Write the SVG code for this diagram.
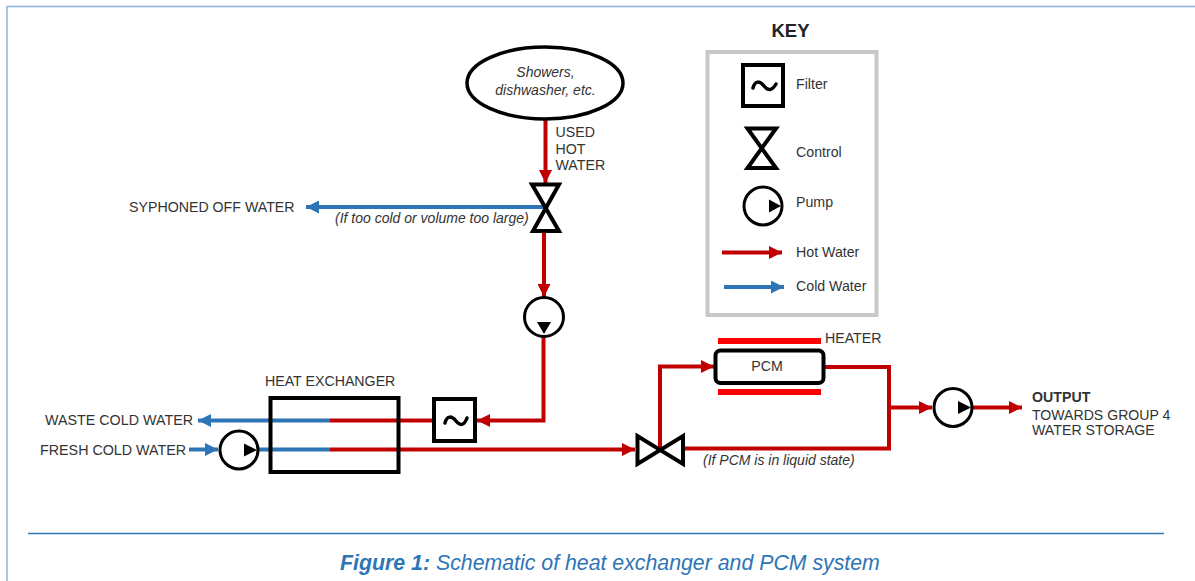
<svg xmlns="http://www.w3.org/2000/svg" width="1195" height="581" viewBox="0 0 1195 581">
<defs>
<marker id="ah" viewBox="0 0 13 13" refX="13" refY="6.5" markerUnits="userSpaceOnUse" markerWidth="13" markerHeight="13" orient="auto"><path d="M0 0L13 6.5L0 13z" fill="#c00000"/></marker>
<marker id="ac" viewBox="0 0 13 13" refX="13" refY="6.5" markerUnits="userSpaceOnUse" markerWidth="13" markerHeight="13" orient="auto"><path d="M0 0L13 6.5L0 13z" fill="#2e75b6"/></marker>
</defs>
<style>
text{font-family:"Liberation Sans",Arial,sans-serif;font-size:14.2px;fill:#333}
.i{font-style:italic;font-size:14px}
.h{fill:none;stroke:#c00000;stroke-width:4}
.c{fill:none;stroke:#2e75b6;stroke-width:4}
.b{fill:#fff;stroke:#000;stroke-width:4}
.n{fill:none;stroke:#000;stroke-width:4}
.p{fill:#fff;stroke:#000;stroke-width:3}
.v{fill:none;stroke:#000;stroke-width:4;stroke-linejoin:miter}
.w{fill:none;stroke:#000;stroke-width:3.500;stroke-linecap:round}
</style>
<rect width="1195" height="581" fill="#fff"/>
<path d="M7 581V6.500H1195" fill="none" stroke="#8db4dc" stroke-width="1.500"/>
<line x1="28" y1="533.500" x2="1164" y2="533.500" stroke="#2e75b6" stroke-width="1.500"/>
<text x="610" y="570" text-anchor="middle" style="font-size:21.300px;fill:#2e75b6;font-style:italic"><tspan font-weight="bold">Figure 1:</tspan> Schematic of heat exchanger and PCM system</text>

<g id="key">
<text x="790.500" y="37" text-anchor="middle" style="font-size:18.500px;font-weight:bold;fill:#222">KEY</text>
<rect x="707.500" y="52" width="169" height="263" fill="#fff" stroke="#c8c8c8" stroke-width="4"/>
<rect x="743" y="65" width="40" height="41" class="b"/>
<path d="M753 88C755 80 760 81 764 86S772 91 776 84" class="w"/>
<path d="M747.500 128.500H776L747.500 168H776Z" class="v"/>
<circle cx="763" cy="206" r="19" class="p"/>
<path d="M769 199.500L781 206L769 212.500Z"/>
<line x1="722" y1="252.500" x2="782" y2="252.500" class="h" marker-end="url(#ah)"/>
<line x1="724" y1="287" x2="784" y2="287" class="c" marker-end="url(#ac)"/>
<text x="796" y="89">Filter</text>
<text x="796" y="157">Control</text>
<text x="796" y="207">Pump</text>
<text x="796" y="257">Hot Water</text>
<text x="796" y="291">Cold Water</text>
</g>

<g id="connectors">
<line x1="545.500" y1="118" x2="545.500" y2="183" class="h" marker-end="url(#ah)"/>
<line x1="544" y1="207" x2="306" y2="207" class="c" marker-end="url(#ac)"/>
<line x1="544" y1="231" x2="544" y2="297" class="h" marker-end="url(#ah)"/>
<path d="M543.500 336V420.500H477" class="h" marker-end="url(#ah)"/>
<line x1="434" y1="420.500" x2="330" y2="420.500" class="h"/>
<line x1="330" y1="420.500" x2="198" y2="420.500" class="c" marker-end="url(#ac)"/>
<line x1="189" y1="449.500" x2="218" y2="449.500" class="c" marker-end="url(#ac)"/>
<line x1="258" y1="449.500" x2="330" y2="449.500" class="c"/>
<line x1="330" y1="449.500" x2="635" y2="449.500" class="h" marker-end="url(#ah)"/>
<path d="M660 449V366.500H714" class="h" marker-end="url(#ah)"/>
<path d="M825 367H889V448.500H684" class="h"/>
<line x1="889" y1="407.500" x2="932" y2="407.500" class="h" marker-end="url(#ah)"/>
<line x1="973" y1="407.500" x2="1022" y2="407.500" class="h" marker-end="url(#ah)"/>
</g>

<g id="source"><ellipse cx="545" cy="83" rx="78" ry="36" class="b" style="stroke-width:3.500"/>
<text x="545.500" y="77" text-anchor="middle" class="i">Showers,</text>
<text x="545.500" y="95" text-anchor="middle" class="i">dishwasher, etc.</text></g>
<g id="used-label"><text x="555.500" y="137">USED</text><text x="555.500" y="154">HOT</text><text x="555.500" y="170">WATER</text></g>
<g id="control-top"><path d="M532 184.500H559L533 231H559Z" class="v"/></g>
<text x="129" y="212">SYPHONED OFF WATER</text>
<text x="335" y="223" class="i">(If too cold or volume too large)</text>
<g id="pump-top"><circle cx="544" cy="317" r="19.500" class="p"/><path d="M537 322H551L544 334Z"/></g>
<g id="filter"><rect x="434" y="399" width="41" height="42" class="b"/><path d="M445 423C447 415 452 416 456 421S464 426 467 418" class="w"/></g>
<g id="heat-exchanger"><rect x="270.500" y="398" width="128" height="74" class="n"/><text x="265" y="386">HEAT EXCHANGER</text></g>
<text x="45" y="425" style="font-size:14.300px">WASTE COLD WATER</text>
<text x="40" y="455" style="font-size:14.300px">FRESH COLD WATER</text>
<g id="pump-fresh"><circle cx="239" cy="450" r="19" class="p"/><path d="M244 443.500L257 450L244 456.500Z"/></g>
<g id="control-mid"><path d="M637.500 436V464L683 436V464Z" class="v"/></g>
<text x="703" y="465" class="i">(If PCM is in liquid state)</text>
<g id="pcm"><rect x="715.500" y="350.500" width="108" height="32.500" rx="5" class="b"/><text x="767" y="371" text-anchor="middle">PCM</text></g>
<g id="heater"><rect x="718" y="338" width="103" height="6" fill="#ff0000"/><rect x="718" y="389" width="103" height="6" fill="#ff0000"/><text x="825" y="343">HEATER</text></g>
<g id="pump-out"><circle cx="953" cy="407.500" r="19" class="p"/><path d="M958 401L971 407.500L958 414Z"/></g>
<g id="output"><text x="1032" y="402" font-weight="bold">OUTPUT</text><text x="1032" y="419.500" style="font-size:14.100px">TOWARDS GROUP 4</text><text x="1032" y="435">WATER STORAGE</text></g>
</svg>
